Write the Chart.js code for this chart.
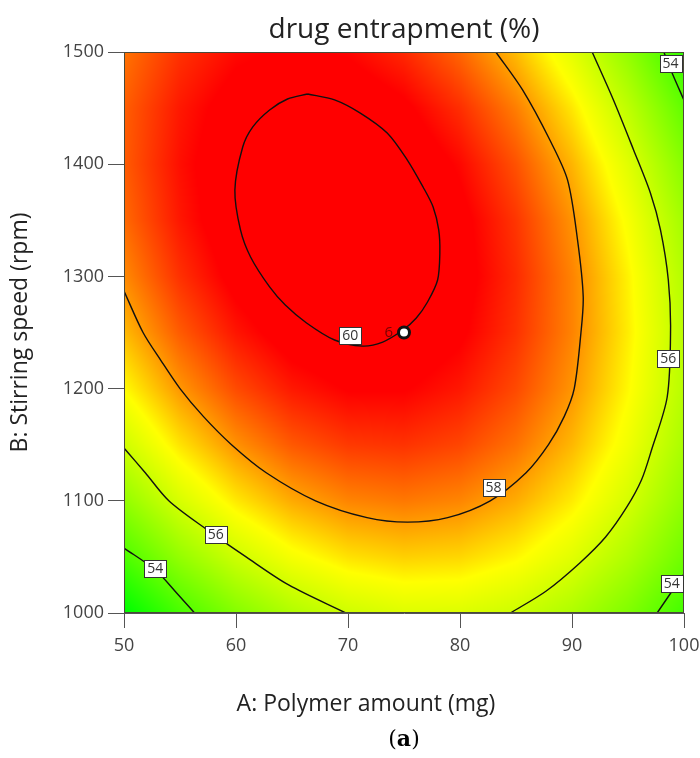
<!DOCTYPE html>
<html>
<head>
<meta charset="utf-8">
<script src="https://cdn.jsdelivr.net/npm/chart.js@4.4.1/dist/chart.umd.min.js"></script>
<style>
  html, body { margin: 0; padding: 0; background: #fff; }
</style>
</head>
<body>
<canvas id="contour-chart" width="700" height="758"></canvas>
<script>
// factor levels of the grid (A: polymer amount, B: stirring speed)
const polymerAmount = [50, 55, 60, 65, 70, 75, 80, 85, 90, 95, 100];
const stirringSpeed = [1000, 1050, 1100, 1150, 1200, 1250, 1300, 1350, 1400, 1450, 1500];

const entrapment = [
  [52.33, 53.66, 54.72, 55.51, 56.04, 56.30, 56.29, 56.01, 55.46, 54.65, 53.57],
  [53.75, 55.02, 56.02, 56.75, 57.21, 57.40, 57.33, 56.99, 56.38, 55.50, 54.36],
  [54.99, 56.20, 57.13, 57.80, 58.20, 58.33, 58.19, 57.78, 57.11, 56.17, 54.96],
  [56.05, 57.19, 58.06, 58.67, 59.00, 59.07, 58.87, 58.40, 57.66, 56.66, 55.38],
  [56.93, 58.01, 58.81, 59.35, 59.63, 59.63, 59.36, 58.83, 58.03, 56.96, 55.63],
  [57.63, 58.64, 59.38, 59.86, 60.07, 60.01, 59.68, 59.08, 58.22, 57.09, 55.69],
  [58.14, 59.09, 59.77, 60.18, 60.33, 60.20, 59.81, 59.15, 58.22, 57.03, 55.56],
  [58.48, 59.36, 59.98, 60.32, 60.41, 60.22, 59.76, 59.04, 58.05, 56.79, 55.26],
  [58.63, 59.45, 60.00, 60.28, 60.30, 60.05, 59.53, 58.74, 57.69, 56.37, 54.77],
  [58.60, 59.35, 59.84, 60.06, 60.02, 59.70, 59.12, 58.27, 57.15, 55.76, 54.11],
  [58.38, 59.08, 59.50, 59.66, 59.55, 59.17, 58.52, 57.61, 56.43, 54.98, 53.26],
];

// contour lines, [A, B] pairs
const line60 = [
  [66.4, 1462.6], [68.8, 1457.4], [71.1, 1445.6], [73.5, 1427.8], [75.3, 1403.7],
  [76.7, 1379.7], [77.6, 1361.9], [78.1, 1341.4], [78.2, 1320.9], [78.0, 1296.8],
  [77.1, 1277.2], [76.1, 1262.9], [74.9, 1252.2], [73.1, 1241.5], [71.3, 1237.9],
  [68.8, 1243.3], [66.3, 1258.5], [64.4, 1274.5], [63.0, 1290.6], [61.3, 1317.3],
  [60.4, 1341.4], [59.9, 1377.0], [60.6, 1415.3], [61.5, 1433.2], [63.0, 1448.3],
  [64.6, 1458.1], [66.4, 1462.6],
];
const line58 = [
  [50, 1287], [51.7, 1250], [53.3, 1225], [55.0, 1200], [57.1, 1175],
  [59.6, 1150], [62.7, 1125], [67.1, 1100], [71.7, 1085], [75.3, 1081],
  [78.9, 1085], [82.7, 1100], [85.9, 1125], [87.9, 1150], [89.3, 1175],
  [90.2, 1200], [90.8, 1250], [91.0, 1282], [90.5, 1332], [89.6, 1386],
  [88.0, 1422], [85.6, 1466], [83.2, 1500],
];
const line56Left = [
  [50, 1147], [51.9, 1125], [54.0, 1100], [57.3, 1075], [60.9, 1050],
  [64.7, 1025], [69.8, 1000],
];
const line56Right = [
  [84.5, 1000], [87.7, 1019.6], [90.7, 1044.6], [93.0, 1067.7], [94.9, 1094.5],
  [96.2, 1118.5], [97.1, 1145.3], [98.5, 1192.5], [98.8, 1252.2], [98.6, 1296.8],
  [97.9, 1341.4], [97.0, 1374.3], [95.5, 1412.7], [93.7, 1457.2], [91.8, 1500],
];
const line54Left = [[50, 1057.9], [52.8, 1038.3], [54.6, 1019], [56.3, 1000]];
const line54Right = [[97.6, 1000], [99.0, 1020.5], [100, 1034.8]];
const line54Top = [[98.2, 1500], [98.9, 1482.2], [100, 1457]];

// contour labels
const labelText = ['60', '58', '56', '54', '56', '54', '54'];
const labelA = [70.2, 83.0, 58.2, 52.8, 98.6, 98.9, 98.8];
const labelB = [1247, 1112, 1070, 1040, 1227, 1026, 1490];

// design point (centre run)
const designPoint = [75, 1250];
const designPointLabel = '6';

const xTicks = [50, 60, 70, 80, 90, 100];
const yTicks = [1000, 1100, 1200, 1300, 1400, 1500];

// colour ramp green -> yellow -> red
const colourStops = [
  [52.4, [0, 255, 0]],
  [56.9, [255, 255, 0]],
  [59.6, [255, 0, 0]],
];

const FONT = "'Open Sans', 'Noto Sans', sans-serif";

function colourFor(v) {
  if (v <= colourStops[0][0]) return colourStops[0][1];
  for (let i = 1; i < colourStops.length; i++) {
    const [v1, c1] = colourStops[i];
    if (v <= v1) {
      const [v0, c0] = colourStops[i - 1];
      const t = (v - v0) / (v1 - v0);
      return c0.map((c, k) => Math.round(c + (c1[k] - c) * t));
    }
  }
  return colourStops[colourStops.length - 1][1];
}

function findCell(arr, v) {
  let i = 0;
  while (i < arr.length - 2 && v > arr[i + 1]) i++;
  const t = Math.min(1, Math.max(0, (v - arr[i]) / (arr[i + 1] - arr[i])));
  return [i, t];
}

function sampleGrid(a, b) {
  const [i, tx] = findCell(polymerAmount, a);
  const [j, ty] = findCell(stirringSpeed, b);
  const v00 = entrapment[j][i];
  const v10 = entrapment[j][i + 1];
  const v01 = entrapment[j + 1][i];
  const v11 = entrapment[j + 1][i + 1];
  return (v00 * (1 - tx) + v10 * tx) * (1 - ty) + (v01 * (1 - tx) + v11 * tx) * ty;
}

const heatmapPlugin = {
  id: 'heatmap',
  beforeDatasetsDraw(chart) {
    const { ctx, chartArea: area, scales: { x, y } } = chart;
    const w = Math.round(area.right - area.left);
    const h = Math.round(area.bottom - area.top);
    const img = ctx.createImageData(w, h);
    for (let py = 0; py < h; py++) {
      const b = y.getValueForPixel(area.top + py + 0.5);
      for (let px = 0; px < w; px++) {
        const a = x.getValueForPixel(area.left + px + 0.5);
        const c = colourFor(sampleGrid(a, b));
        const k = (py * w + px) * 4;
        img.data[k] = c[0];
        img.data[k + 1] = c[1];
        img.data[k + 2] = c[2];
        img.data[k + 3] = 255;
      }
    }
    ctx.putImageData(img, Math.round(area.left), Math.round(area.top));
  },
  afterDatasetsDraw(chart) {
    const { ctx, chartArea: area, scales: { x, y } } = chart;
    ctx.save();
    // plot frame
    ctx.strokeStyle = '#4a4a3a';
    ctx.lineWidth = 1;
    ctx.strokeRect(area.left + 0.5, area.top + 0.5, area.right - area.left - 1, area.bottom - area.top - 1);

    // contour labels
    ctx.font = '14px ' + FONT;
    ctx.textAlign = 'center';
    ctx.textBaseline = 'middle';
    labelText.forEach((txt, i) => {
      const cx = x.getPixelForValue(labelA[i]);
      const cy = y.getPixelForValue(labelB[i]);
      const bw = Math.round(ctx.measureText(txt).width) + 6;
      const bh = 17;
      const left = Math.round(cx - bw / 2) + 0.5;
      const top = Math.round(cy - bh / 2) + 0.5;
      ctx.fillStyle = '#fff';
      ctx.fillRect(left, top, bw, bh);
      ctx.strokeStyle = '#333';
      ctx.strokeRect(left, top, bw, bh);
      ctx.fillStyle = '#333';
      ctx.fillText(txt, cx, cy + 0.5);
    });

    // design point label
    ctx.font = '15px ' + FONT;
    ctx.fillStyle = '#7a0000';
    ctx.textAlign = 'right';
    ctx.fillText(designPointLabel, x.getPixelForValue(designPoint[0]) - 11, y.getPixelForValue(designPoint[1]));
    ctx.restore();
  },
  afterDraw(chart) {
    const { ctx, chartArea: area } = chart;
    ctx.save();
    ctx.fillStyle = '#222';
    ctx.font = '23px ' + FONT;
    ctx.textAlign = 'center';
    ctx.textBaseline = 'middle';
    ctx.fillText('A: Polymer amount (mg)', 366, 704);

    // figure tag "(a)"
    const cx = (area.left + area.right) / 2;
    const parts = [['(', 'normal'], ['a', 'bold'], [')', 'normal']];
    let total = 0;
    parts.forEach(p => {
      ctx.font = p[1] + " 22px 'DejaVu Serif', 'Liberation Serif', serif";
      p.push(ctx.measureText(p[0]).width);
      total += p[2];
    });
    let px = cx - total / 2;
    ctx.textAlign = 'left';
    ctx.fillStyle = '#000';
    parts.forEach(p => {
      ctx.font = p[1] + " 22px 'DejaVu Serif', 'Liberation Serif', serif";
      ctx.fillText(p[0], px, 740);
      px += p[2];
    });
    ctx.restore();
  },
};

function contourSet(points) {
  return {
    data: points.map(([a, b]) => ({ x: a, y: b })),
    showLine: true,
    borderColor: '#111',
    borderWidth: 1.4,
    pointRadius: 0,
    tension: 0.3,
    fill: false,
    order: 1,
  };
}

const chart = new Chart(document.getElementById('contour-chart'), {
  type: 'scatter',
  data: {
    datasets: [
      {
        data: [{ x: designPoint[0], y: designPoint[1] }],
        pointRadius: 5.5,
        pointBorderWidth: 3,
        pointBackgroundColor: '#fff',
        pointBorderColor: '#111',
        order: 0,
      },
      contourSet(line60),
      contourSet(line58),
      contourSet(line56Left),
      contourSet(line56Right),
      contourSet(line54Left),
      contourSet(line54Right),
      contourSet(line54Top),
    ],
  },
  options: {
    responsive: false,
    animation: false,
    devicePixelRatio: 1,
    layout: { padding: { left: 0, right: 16, top: 0, bottom: 0 } },
    plugins: {
      legend: { display: false },
      tooltip: { enabled: false },
      title: {
        display: true,
        text: 'drug entrapment (%)',
        fullSize: false,
        color: '#222',
        font: { family: FONT, size: 28, weight: 'normal' },
        padding: { top: 13, bottom: 5.4 },
      },
    },
    scales: {
      x: {
        type: 'linear',
        min: 50,
        max: 100,
        afterBuildTicks: s => { s.ticks = xTicks.map(v => ({ value: v })); },
        afterFit: s => { s.height = 145; s.paddingLeft = 0; s.paddingRight = 0; },
        ticks: { color: '#444', font: { family: FONT, size: 18 }, padding: 7, maxRotation: 0, callback: v => String(v) },
        grid: { drawOnChartArea: false, tickLength: 15, color: '#555' },
        border: { color: '#555' },
      },
      y: {
        type: 'linear',
        min: 1000,
        max: 1500,
        afterBuildTicks: s => { s.ticks = yTicks.map(v => ({ value: v })); },
        afterFit: s => { s.width = 124; s.paddingTop = 0; s.paddingBottom = 0; },
        ticks: { color: '#444', font: { family: FONT, size: 18 }, padding: 4, callback: v => String(v) },
        grid: { drawOnChartArea: false, tickLength: 16, color: '#555' },
        border: { color: '#555' },
        title: {
          display: true,
          text: 'B: Stirring speed (rpm)',
          color: '#222',
          font: { family: FONT, size: 23 },
          padding: { top: 7, bottom: 0 },
        },
      },
    },
  },
  plugins: [heatmapPlugin],
});
</script>
</body>
</html>
